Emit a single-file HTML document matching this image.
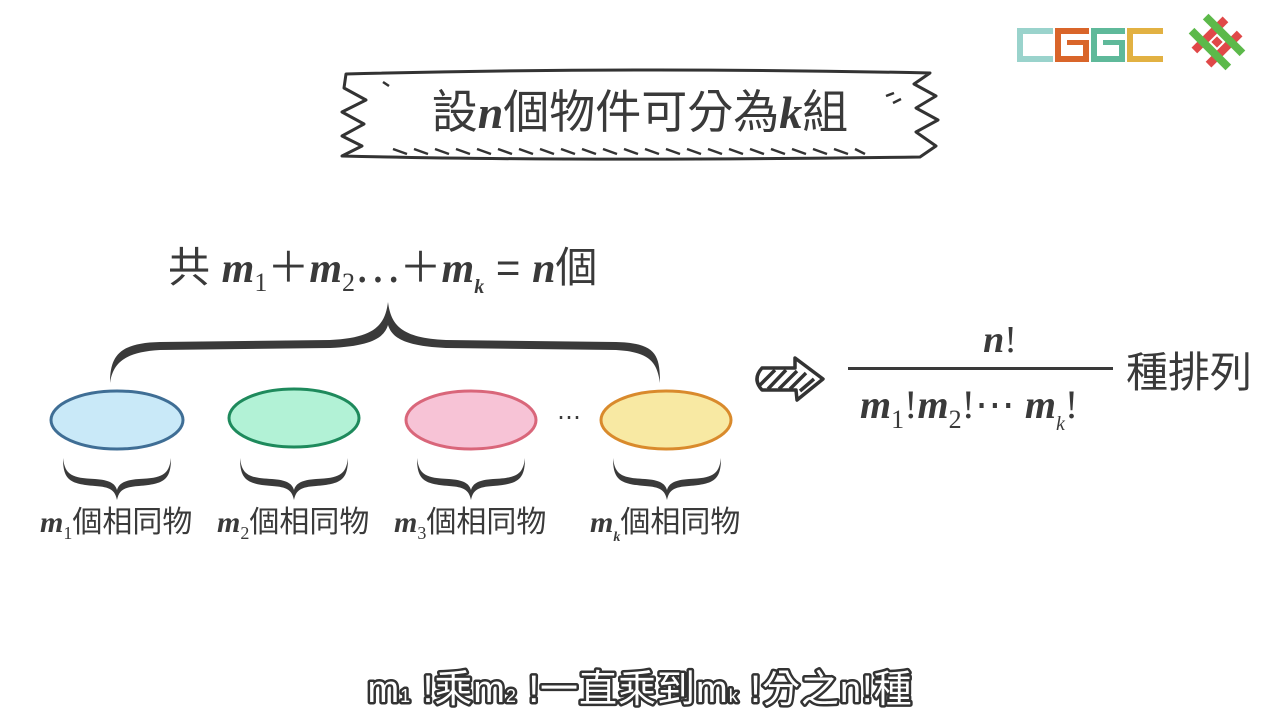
<!DOCTYPE html>
<html><head><meta charset="utf-8"><style>
html,body{margin:0;padding:0;background:#fff;width:1280px;height:720px;overflow:hidden}
svg{display:block}
.cj{font-family:"Liberation Sans","Noto Sans CJK TC",sans-serif;fill:#3a3a3a}
.mi{font-family:"Liberation Serif",serif;font-style:italic;font-weight:bold;fill:#3a3a3a}
.mr{font-family:"Liberation Serif",serif;fill:#3a3a3a}
</style></head><body>
<svg width="1280" height="720" viewBox="0 0 1280 720" xmlns="http://www.w3.org/2000/svg">
<!-- logos -->
<g>
<rect x="1017" y="28" width="36" height="6" fill="#9ad3cc"/><rect x="1017" y="28" width="6" height="34" fill="#9ad3cc"/><rect x="1017" y="56" width="36" height="6" fill="#9ad3cc"/>
<rect x="1055" y="28" width="34" height="6" fill="#d9652a"/><rect x="1055" y="28" width="6" height="34" fill="#d9652a"/><rect x="1055" y="56" width="34" height="6" fill="#d9652a"/><rect x="1083" y="40" width="6" height="22" fill="#d9652a"/><rect x="1067" y="40" width="16" height="5" fill="#d9652a"/>
<rect x="1091" y="28" width="34" height="6" fill="#5fb99a"/><rect x="1091" y="28" width="6" height="34" fill="#5fb99a"/><rect x="1091" y="56" width="34" height="6" fill="#5fb99a"/><rect x="1119" y="40" width="6" height="22" fill="#5fb99a"/><rect x="1103" y="40" width="16" height="5" fill="#5fb99a"/>
<rect x="1127" y="28" width="36" height="6" fill="#e2b142"/><rect x="1127" y="28" width="6" height="34" fill="#e2b142"/><rect x="1127" y="56" width="36" height="6" fill="#e2b142"/>
</g>
<g transform="translate(1217,42) rotate(-45)">
<rect x="-22" y="-14" width="44" height="8" fill="#e04848"/><rect x="-22" y="6" width="44" height="8" fill="#e04848"/>
<rect x="-14" y="-26" width="8" height="52" fill="#5cb94a"/><rect x="6" y="-26" width="8" height="52" fill="#5cb94a"/>
<rect x="-4" y="-4" width="8" height="8" fill="#e04848"/>
</g>
<!-- banner -->
<path d="M346,74 C500,70 700,68 930,73 L914,84 L936,96 L916,108 L938,120 L916,132 L936,146 L920,157 C700,160 500,160 342,156 L362,146 L342,136 L364,124 L342,112 L366,100 L344,88 Z" fill="#fff" stroke="#333" stroke-width="3" stroke-linejoin="round"/>
<path d="M383,82 l6,4 M886,96 l8,-3 M893,103 l8,-4" stroke="#333" stroke-width="2.5"/>
<g stroke="#333" stroke-width="2.5">
<path d="M393,149 l14,5 M414,149 l14,5 M435,149 l14,5 M456,149 l14,5 M477,149 l14,5 M498,149 l14,5 M519,149 l14,5 M540,149 l14,5 M561,149 l14,5 M582,149 l14,5 M603,149 l14,5 M624,149 l14,5 M645,149 l14,5 M666,149 l14,5 M687,149 l14,5 M708,149 l14,5 M729,149 l14,5 M750,149 l14,5 M771,149 l14,5 M792,149 l14,5 M813,149 l14,5 M834,149 l14,5 M855,149 l10,5"/>
</g>
<text x="640" y="128" text-anchor="middle" font-size="46" class="cj">設<tspan class="mi">n</tspan>個物件可分為<tspan class="mi">k</tspan>組</text>
<!-- top formula -->
<text x="168" y="282" font-size="42" class="cj">共 <tspan class="mi">m</tspan><tspan class="mr" font-size="26" dy="9">1</tspan><tspan dy="-9">＋</tspan><tspan class="mi">m</tspan><tspan class="mr" font-size="26" dy="9">2</tspan><tspan dy="-9">⋯＋</tspan><tspan class="mi">m</tspan><tspan class="mi" font-size="20" dy="11" font-weight="normal">k</tspan><tspan dy="-11"> = </tspan><tspan class="mi">n</tspan>個</text>
<!-- big brace -->
<path d="M110,383 C110,355 120,343 160,342 L330,340 C375,338 385,325 388,302 C391,325 401,338 446,340 L616,342 C656,343 660,355 660,383 C657,362 650,352 616,350 L446,348 C405,346 392,338 388,325 C384,338 371,346 330,348 L160,350 C126,352 113,362 110,383 Z" fill="#3a3a3a"/>
<!-- ellipses -->
<ellipse cx="117" cy="420" rx="66" ry="29" fill="#c9e9f8" stroke="#3f6e95" stroke-width="3"/>
<ellipse cx="294" cy="418" rx="65" ry="29" fill="#b2f2d6" stroke="#1e8a5c" stroke-width="3"/>
<ellipse cx="471" cy="420" rx="65" ry="29" fill="#f7c3d6" stroke="#d9667a" stroke-width="3"/>
<ellipse cx="666" cy="420" rx="65" ry="29" fill="#f8e9a3" stroke="#d98a2c" stroke-width="3"/>
<text x="569" y="425" text-anchor="middle" font-size="24" class="mr">⋯</text>
<!-- small braces -->
<g fill="#3a3a3a">
<path id="sb" d="M63,458 C63,480 70,484 95,486 C110,487 115,490 117,500 C119,490 124,487 139,486 C164,484 171,480 171,458 C169,475 162,478 139,479 C125,480 119,483 117,490 C115,483 109,480 95,479 C72,478 65,475 63,458 Z"/>
<use href="#sb" transform="translate(177,0)"/>
<use href="#sb" transform="translate(354,0)"/>
<use href="#sb" transform="translate(550,0)"/>
</g>
<!-- labels -->
<g font-size="30">
<text x="40" y="532" class="cj"><tspan class="mi">m</tspan><tspan class="mr" font-size="18" dy="7">1</tspan><tspan dy="-7">個相同物</tspan></text>
<text x="217" y="532" class="cj"><tspan class="mi">m</tspan><tspan class="mr" font-size="18" dy="7">2</tspan><tspan dy="-7">個相同物</tspan></text>
<text x="394" y="532" class="cj"><tspan class="mi">m</tspan><tspan class="mr" font-size="18" dy="7">3</tspan><tspan dy="-7">個相同物</tspan></text>
<text x="590" y="532" class="cj"><tspan class="mi">m</tspan><tspan class="mi" font-size="14" font-weight="normal" dy="9">k</tspan><tspan dy="-9">個相同物</tspan></text>
</g>
<!-- arrow -->
<path d="M762,368 L795,368 L795,358 L823,379 L797,400 L796,390 L762,390 Q752,379 762,368 Z" fill="#fff" stroke="#333" stroke-width="3.5" stroke-linejoin="round"/>
<path d="M760,385 L775,370 M768,389 L786,370 M779,389 L797,371 M790,389 L806,373 M800,391 L814,379" stroke="#333" stroke-width="3.5"/>
<!-- fraction -->
<text x="1000" y="352" text-anchor="middle" font-size="38" class="mi">n<tspan class="mr" font-weight="normal" font-style="normal">!</tspan></text>
<rect x="848" y="367" width="265" height="3" fill="#3a3a3a"/>
<text x="860" y="418" font-size="40" class="mi">m<tspan class="mr" font-weight="normal" font-style="normal" font-size="26" dy="10">1</tspan><tspan class="mr" font-weight="normal" font-style="normal" dy="-10">!</tspan>m<tspan class="mr" font-weight="normal" font-style="normal" font-size="26" dy="10">2</tspan><tspan class="mr" font-weight="normal" font-style="normal" dy="-10">!⋯ </tspan>m<tspan font-size="20" font-weight="normal" dy="12">k</tspan><tspan class="mr" font-weight="normal" font-style="normal" dy="-12">!</tspan></text>
<text x="1126" y="387" font-size="42" class="cj">種排列</text>
<!-- subtitle -->
<text x="640" y="702" text-anchor="middle" font-size="38" letter-spacing="1" font-family="'Liberation Sans','Noto Sans CJK TC',sans-serif" fill="#fff" stroke="#333" stroke-width="5" paint-order="stroke" stroke-linejoin="round">m<tspan font-size="18">1</tspan> !乘m<tspan font-size="18">2</tspan> !一直乘到m<tspan font-size="18">k</tspan> !分之n!種</text>
</svg>
</body></html>
